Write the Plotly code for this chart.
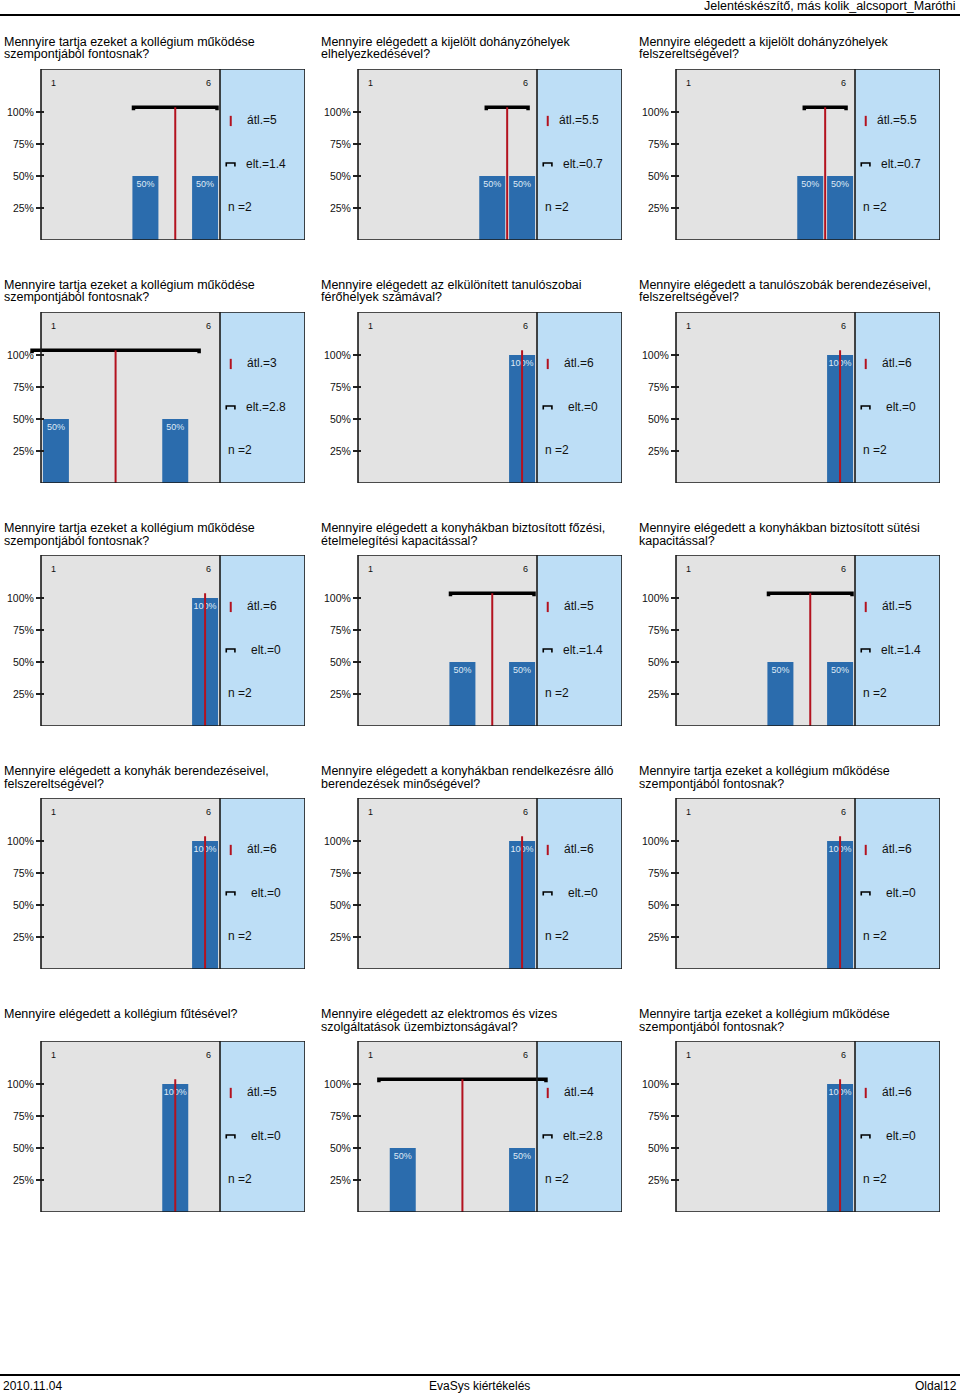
import plotly.graph_objects as go

W, H = 960, 1395
FONT = "Liberation Sans, Arial, Helvetica, sans-serif"

# ---------------- data ----------------
titles = [
    ("Mennyire tartja ezeket a kollégium működése", "szempontjából fontosnak?"),
    ("Mennyire elégedett a kijelölt dohányzóhelyek", "elhelyezkedésével?"),
    ("Mennyire elégedett a kijelölt dohányzóhelyek", "felszereltségével?"),
    ("Mennyire tartja ezeket a kollégium működése", "szempontjából fontosnak?"),
    ("Mennyire elégedett az elkülönített tanulószobai", "férőhelyek számával?"),
    ("Mennyire elégedett a tanulószobák berendezéseivel,", "felszereltségével?"),
    ("Mennyire tartja ezeket a kollégium működése", "szempontjából fontosnak?"),
    ("Mennyire elégedett a konyhákban biztosított főzési,", "ételmelegítési kapacitással?"),
    ("Mennyire elégedett a konyhákban biztosított sütési", "kapacitással?"),
    ("Mennyire elégedett a konyhák berendezéseivel,", "felszereltségével?"),
    ("Mennyire elégedett a konyhákban rendelkezésre álló", "berendezések minőségével?"),
    ("Mennyire tartja ezeket a kollégium működése", "szempontjából fontosnak?"),
    ("Mennyire elégedett a kollégium fűtésével?", ""),
    ("Mennyire elégedett az elektromos és vizes", "szolgáltatások üzembiztonságával?"),
    ("Mennyire tartja ezeket a kollégium működése", "szempontjából fontosnak?"),
]
scale = [1, 2, 3, 4, 5, 6]
scale_labels = ["1", "6"]
percents = [
    [0, 0, 0, 50, 0, 50],
    [0, 0, 0, 0, 50, 50],
    [0, 0, 0, 0, 50, 50],
    [50, 0, 0, 0, 50, 0],
    [0, 0, 0, 0, 0, 100],
    [0, 0, 0, 0, 0, 100],
    [0, 0, 0, 0, 0, 100],
    [0, 0, 0, 50, 0, 50],
    [0, 0, 0, 50, 0, 50],
    [0, 0, 0, 0, 0, 100],
    [0, 0, 0, 0, 0, 100],
    [0, 0, 0, 0, 0, 100],
    [0, 0, 0, 0, 100, 0],
    [0, 50, 0, 0, 0, 50],
    [0, 0, 0, 0, 0, 100],
]
means = [5, 5.5, 5.5, 3, 6, 6, 6, 5, 5, 6, 6, 6, 5, 4, 6]
sds = [1.4, 0.7, 0.7, 2.8, 0, 0, 0, 1.4, 1.4, 0, 0, 0, 0, 2.8, 0]
ns = [2] * 15
y_ticks = [25, 50, 75, 100]
y_ticktext = ["25%", "50%", "75%", "100%"]

header_text = "Jelentéskészítő, más kolik_alcsoport_Maróthi"
footer_left = "2010.11.04"
footer_mid = "EvaSys kiértékelés"
footer_right = "Oldal12"

# ---------------- style / geometry ----------------
BAR_C = "#2b6cad"
GRAY = "#e3e3e3"
BLUE = "#bddef6"
RED = "#b3121f"
col_left = [41, 358, 676]
row_top = [69, 312, 555, 798, 1041]
BOX_W, BOX_H = 264, 171
UNIT = 179 / 6.0          # px per scale step
PXPCT = 1.28              # px per percent
XMAX = 0.5 + BOX_W / UNIT
YMAX = BOX_H / PXPCT
STD_Y = 103.7

fig = go.Figure()
shapes = []
annotations = []
layout = {}


def px(x):
    return x / W


def py(y):
    return 1 - y / H


for i in range(15):
    r, c = divmod(i, 3)
    k = i + 1
    xa = "x" if k == 1 else f"x{k}"
    ya = "y" if k == 1 else f"y{k}"
    xkey = "xaxis" if k == 1 else f"xaxis{k}"
    ykey = "yaxis" if k == 1 else f"yaxis{k}"
    left = col_left[c]
    top = row_top[r]

    layout[xkey] = dict(
        domain=[px(left - 0.5 * UNIT), px(left + BOX_W)],
        range=[0, XMAX], visible=False, fixedrange=True, anchor=ya,
    )
    layout[ykey] = dict(
        domain=[py(top + BOX_H), py(top)], range=[0, YMAX],
        anchor="free", position=px(left + 3), showgrid=False, zeroline=False,
        showline=False, tickvals=y_ticks, ticktext=y_ticktext,
        ticks="outside", ticklen=8, tickwidth=1.2, tickcolor="#222",
        tickfont=dict(family=FONT, size=10.5, color="#111"), fixedrange=True,
    )

    # backgrounds
    shapes.append(dict(type="rect", xref=xa, yref=ya, x0=0.5, x1=6.5, y0=0, y1=YMAX,
                       fillcolor=GRAY, line=dict(width=0), layer="below"))
    shapes.append(dict(type="rect", xref=xa, yref=ya, x0=6.5, x1=XMAX, y0=0, y1=YMAX,
                       fillcolor=BLUE, line=dict(width=0), layer="below"))

    # bars
    bx = [s for s, p in zip(scale, percents[i]) if p > 0]
    by = [p for p in percents[i] if p > 0]
    fig.add_trace(go.Bar(
        x=bx, y=by, width=26 / UNIT, marker=dict(color=BAR_C, line=dict(width=0)),
        text=[f"{p}%" for p in by], textposition="inside", insidetextanchor="end",
        textangle=0, constraintext="none",
        textfont=dict(family=FONT, size=9, color="#dfe9f5"),
        xaxis=xa, yaxis=ya, showlegend=False, hoverinfo="skip",
    ))

    m, s = means[i], sds[i]
    # std dev bracket
    if s > 0:
        fig.add_trace(go.Scatter(
            x=[m - s, m - s, m + s, m + s], y=[101.3, STD_Y, STD_Y, 101.3],
            mode="lines", line=dict(color="#000", width=3.5),
            xaxis=xa, yaxis=ya, showlegend=False, hoverinfo="skip",
        ))
    # mean line
    fig.add_trace(go.Scatter(
        x=[m, m], y=[0, STD_Y], mode="lines", line=dict(color=RED, width=2),
        xaxis=xa, yaxis=ya, showlegend=False, hoverinfo="skip",
    ))
    # legend-like marks in side panel
    fig.add_trace(go.Scatter(
        x=[6.86, 6.86], y=[89, 97], mode="lines", line=dict(color=RED, width=2),
        xaxis=xa, yaxis=ya, showlegend=False, hoverinfo="skip",
    ))
    fig.add_trace(go.Scatter(
        x=[6.71, 6.71, 7.0, 7.0], y=[57.5, 60.2, 60.2, 57.5], mode="lines",
        line=dict(color="#000", width=1.6),
        xaxis=xa, yaxis=ya, showlegend=False, hoverinfo="skip",
    ))

    # outline + divider
    shapes.append(dict(type="line", xref=xa, yref=ya, x0=6.5, x1=6.5, y0=0, y1=YMAX,
                       line=dict(color="#1a1a1a", width=1.6), layer="above"))
    shapes.append(dict(type="rect", xref=xa, yref=ya, x0=0.5, x1=XMAX, y0=0, y1=YMAX,
                       line=dict(color="#1a1a1a", width=1.6), fillcolor="rgba(0,0,0,0)",
                       layer="above"))

    # scale end labels
    annotations.append(dict(x=1, y=122.7, xref=xa, yref=ya, text=scale_labels[0],
                            showarrow=False, xshift=-2.5,
                            font=dict(family=FONT, size=9, color="#111")))
    annotations.append(dict(x=6, y=122.7, xref=xa, yref=ya, text=scale_labels[1],
                            showarrow=False, xshift=3,
                            font=dict(family=FONT, size=9, color="#111")))

    # stats text
    annotations.append(dict(x=7.91, y=93.75, xref=xa, yref=ya, text=f"átl.={m:g}",
                            showarrow=False, xanchor="center",
                            font=dict(family=FONT, size=12, color="#111")))
    annotations.append(dict(x=8.04, y=59.4, xref=xa, yref=ya, text=f"elt.={s:g}",
                            showarrow=False, xanchor="center",
                            font=dict(family=FONT, size=12, color="#111")))
    annotations.append(dict(x=7.17, y=26.0, xref=xa, yref=ya, text=f"n ={ns[i]}",
                            showarrow=False, xanchor="center",
                            font=dict(family=FONT, size=12, color="#111")))

    # titles
    tx = [1.5, 318.5, 636.5][c]
    t1, t2 = titles[i]
    annotations.append(dict(x=px(tx), y=py(42 + 243 * r), xref="paper", yref="paper",
                            text=t1, showarrow=False, xanchor="left", yanchor="middle",
                            font=dict(family=FONT, size=12.5, color="#000")))
    if t2:
        annotations.append(dict(x=px(tx), y=py(54.5 + 243 * r), xref="paper", yref="paper",
                                text=t2, showarrow=False, xanchor="left", yanchor="middle",
                                font=dict(family=FONT, size=12.5, color="#000")))

# header / footer
annotations.append(dict(x=px(958), y=py(6), xref="paper", yref="paper", text=header_text,
                        showarrow=False, xanchor="right", yanchor="middle",
                        font=dict(family=FONT, size=12.5, color="#000")))
shapes.append(dict(type="line", xref="paper", yref="paper", x0=0, x1=1,
                   y0=py(15), y1=py(15), line=dict(color="#000", width=2)))
shapes.append(dict(type="line", xref="paper", yref="paper", x0=0, x1=1,
                   y0=py(1375), y1=py(1375), line=dict(color="#000", width=2)))
annotations.append(dict(x=px(1), y=py(1385.5), xref="paper", yref="paper", text=footer_left,
                        showarrow=False, xanchor="left", yanchor="middle",
                        font=dict(family=FONT, size=12, color="#000")))
annotations.append(dict(x=px(479), y=py(1385.5), xref="paper", yref="paper", text=footer_mid,
                        showarrow=False, xanchor="center", yanchor="middle",
                        font=dict(family=FONT, size=12, color="#000")))
annotations.append(dict(x=px(959), y=py(1385.5), xref="paper", yref="paper", text=footer_right,
                        showarrow=False, xanchor="right", yanchor="middle",
                        font=dict(family=FONT, size=12, color="#000")))

fig.update_layout(
    width=W, height=H, margin=dict(l=0, r=0, t=0, b=0),
    paper_bgcolor="white", plot_bgcolor="rgba(0,0,0,0)",
    shapes=shapes, annotations=annotations, barmode="overlay",
    showlegend=False, font=dict(family=FONT), **layout,
)
fig.write_html(
    "out.html",
    config={"displayModeBar": False, "staticPlot": True},
    post_script="document.body.style.margin='0px';document.body.style.overflow='hidden';",
)
